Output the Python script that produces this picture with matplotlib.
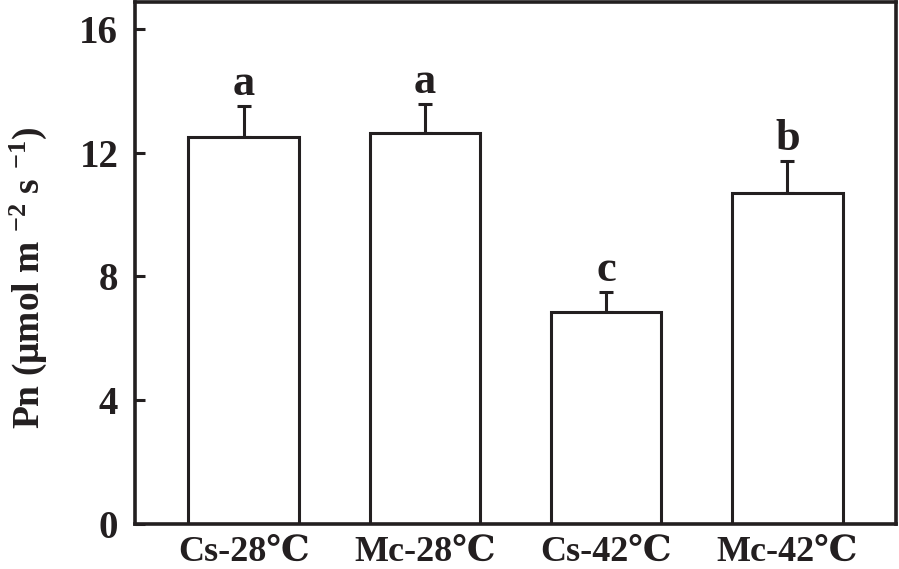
import numpy as np
import matplotlib.pyplot as plt

plt.rcParams['font.family'] = ['Liberation Serif', 'DejaVu Serif']
plt.rcParams['font.weight'] = 'bold'
plt.rcParams['mathtext.fontset'] = 'custom'
plt.rcParams['mathtext.rm'] = 'Liberation Serif:bold'
plt.rcParams['mathtext.default'] = 'rm'

# --- data ---
groups = ['Cs-28\u2103', 'Mc-28\u2103', 'Cs-42\u2103', 'Mc-42\u2103']
pn_mean = [12.51, 12.65, 6.86, 10.71]
pn_err = [1.01, 0.93, 0.65, 1.03]
sig_letters = ['a', 'a', 'c', 'b']

W, H = 899, 569
fig = plt.figure(figsize=(W / 100, H / 100), dpi=100)
ax = fig.add_axes([135 / W, 45.5 / H, (896 - 135) / W, (523.5 - 1.7) / H])

x = np.arange(len(groups))
ax.bar(x, pn_mean, width=0.61, color='white', edgecolor='#231f20',
       linewidth=2.2, zorder=2)
ax.errorbar(x, pn_mean, yerr=[np.zeros(len(pn_err)), pn_err], fmt='none',
            ecolor='#231f20', elinewidth=2.2, capsize=5, capthick=2.2, zorder=1)

for xi, m, e, s in zip(x, pn_mean, pn_err, sig_letters):
    ax.text(xi, m + e + 0.36, s, ha='center', va='baseline',
            fontsize=32, fontweight='bold', color='#231f20')

ax.set_xlim(-0.6, 3.6)
ax.set_ylim(0, 16.9)
ax.set_yticks([0, 4, 8, 12, 16])
ax.set_xticks(x)
ax.set_xticklabels(groups, fontsize=26, fontweight='bold')
ax.tick_params(axis='y', direction='in', length=7, width=2.2, pad=12,
               labelsize=28, colors='#231f20')
ax.tick_params(axis='x', length=0, pad=9, colors='#231f20')
for lab in ax.get_yticklabels():
    lab.set_fontweight('bold')

for sp in ax.spines.values():
    sp.set_linewidth(2.6)
    sp.set_color('#231f20')

ax.set_ylabel('Pn (\u03bcmol m $^{-2}$ s $^{-1}$)', fontsize=27,
              fontweight='bold', color='#231f20')
ax.yaxis.set_label_coords(-0.113, 0.47)

fig.savefig('out.png', dpi=100)
